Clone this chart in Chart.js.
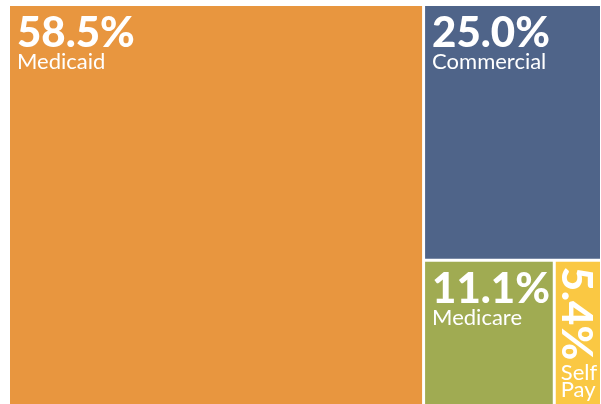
<!DOCTYPE html>
<html>
<head>
<meta charset="utf-8">
<script src="https://cdn.jsdelivr.net/npm/chart.js@4.4.0/dist/chart.umd.min.js"></script>
<style>
    html, body { margin: 0; padding: 0; background: #fff; }
</style>
</head>
<body>
<canvas id="kartta" width="601" height="404"></canvas>
<script>
// payer mix, share of visits
const payers = ['Medicaid', 'Commercial', 'Medicare', 'Self Pay'];
const shares = [58.5, 25.0, 11.1, 5.4];
// box areas as drawn in the picture (not the same as the shares)
const boxSizes = [70.1, 19.1, 8.0, 2.8];
const boxColors = ['#e8963f', '#4f6489', '#a0ab52', '#fac843'];

const GAP = 1.5;
const PAD = 7;
const PCT_FONT = '900 42px Lato';
const LABEL_FONT = '22px Lato';

// slice and dice: even items cut from the left, odd items cut from the top
function sliceDice( sizes )
{
    let x0 = 0, x1 = 100, y0 = 0, y1 = 100;
    let rest = sizes.reduce( ( a, b ) => a + b, 0 );
    const cells = [];
    sizes.forEach( ( s, i ) =>
    {
        const f = i === sizes.length - 1 ? 1 : s / rest;
        if ( i % 2 === 0 )
        {
            const xm = x0 + (x1 - x0) * f;
            cells.push( { x0: x0, x1: xm, y0: y0, y1: y1 } );
            x0 = xm;
        }
        else
        {
            const ym = y1 - (y1 - y0) * f;
            cells.push( { x0: x0, x1: x1, y0: ym, y1: y1 } );
            y1 = ym;
        }
        rest -= s;
    } );
    return cells;
}

const treemapPlugin = {
    id: 'treemap',
    afterDatasetsDraw( chart )
    {
        const ctx = chart.ctx;
        const xs = chart.scales.x;
        const ys = chart.scales.y;
        const cells = sliceDice( boxSizes );

        cells.forEach( ( c, i ) =>
        {
            let left = xs.getPixelForValue( c.x0 );
            let right = xs.getPixelForValue( c.x1 );
            let top = ys.getPixelForValue( c.y1 );
            let bottom = ys.getPixelForValue( c.y0 );
            if ( c.x0 > 0 ) left += GAP;
            if ( c.x1 < 100 ) right -= GAP;
            if ( c.y1 < 100 ) top += GAP;
            if ( c.y0 > 0 ) bottom -= GAP;

            ctx.save();
            ctx.fillStyle = boxColors[ i ];
            ctx.fillRect( left, top, right - left, bottom - top );

            const pct = shares[ i ].toFixed( 1 ) + '%';
            ctx.fillStyle = '#ffffff';
            ctx.textAlign = 'left';
            ctx.textBaseline = 'alphabetic';
            ctx.font = PCT_FONT;
            const w = ctx.measureText( pct ).width;

            if ( w + PAD <= right - left )
            {
                ctx.fillText( pct, left + PAD, top + 41 );
                ctx.font = LABEL_FONT;
                ctx.fillText( payers[ i ], left + PAD, top + 63 );
            }
            else
            {
                // too narrow, turn the number on its side
                ctx.save();
                ctx.translate( left + 6, top + 5 );
                ctx.rotate( Math.PI / 2 );
                ctx.fillText( pct, 0, 0 );
                ctx.restore();
                ctx.font = LABEL_FONT;
                const words = payers[ i ].split( ' ' );
                words.forEach( ( word, k ) =>
                {
                    ctx.fillText( word, left + 5, top + 5 + w + 20 + k * 17 );
                } );
            }
            ctx.restore();
        } );
    }
};

function drawKartta()
{
    const ctx = document.getElementById( 'kartta' ).getContext( '2d' );
    new Chart( ctx, {
        type: 'scatter',
        data: {
            labels: payers,
            datasets: [ { label: 'Payer mix', data: [] } ]
        },
        options: {
            responsive: false,
            animation: false,
            layout: {
                padding: { left: 10, top: 6, right: 1, bottom: 0 }
            },
            plugins: {
                legend: { display: false },
                tooltip: { enabled: false }
            },
            scales: {
                x: { type: 'linear', min: 0, max: 100, display: false },
                y: { type: 'linear', min: 0, max: 100, display: false }
            }
        },
        plugins: [ treemapPlugin ]
    } );
}

Promise.all( [
    document.fonts.load( PCT_FONT ),
    document.fonts.load( LABEL_FONT )
] ).then( drawKartta, drawKartta );
</script>
</body>
</html>
